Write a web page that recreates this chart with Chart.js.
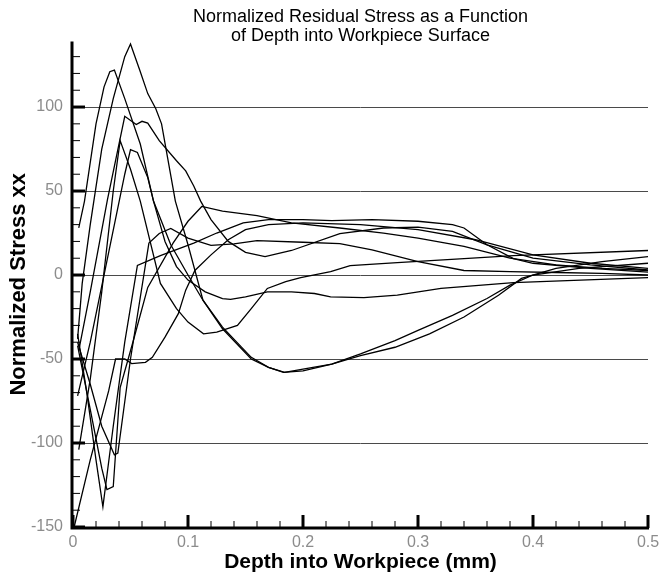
<!DOCTYPE html>
<html>
<head>
<meta charset="utf-8">
<script src="https://cdn.jsdelivr.net/npm/chart.js@4.4.1/dist/chart.umd.min.js"></script>
<style>
html,body{margin:0;padding:0;background:#fff;}
</style>
</head>
<body>
<canvas id="stressChart" width="660" height="578"></canvas>
<script>
// depth (mm) / normalized stress profiles, one pair of arrays per run
const depthA  = [0.004,0.008,0.015,0.025,0.035,0.045,0.05,0.058,0.065,0.072,0.077,0.089,0.1,0.113,0.13,0.155,0.17,0.184,0.2,0.225,0.25,0.28,0.3,0.33,0.36,0.38,0.4,0.44,0.5];
const stressA = [-38,-5,30,75,105,130,137.5,122,108,99,90,44,18,-15,-32,-50,-55,-58,-56,-53,-47,-39,-33,-24,-14,-6,0,4,7];

const depthB  = [0.005,0.01,0.02,0.027,0.032,0.036,0.045,0.0585,0.07,0.085,0.1,0.113,0.13,0.155,0.17,0.183,0.2,0.225,0.25,0.28,0.31,0.34,0.37,0.39,0.42,0.46,0.5];
const stressB = [28,44,90,112,121,122,105,78,44,18,0,-15,-31,-49,-55,-58,-57,-53,-48,-43,-35,-25,-12,-2,4,8,11];

const depthC  = [0.005,0.015,0.03,0.045,0.055,0.06,0.065,0.075,0.09,0.098,0.105,0.111,0.12,0.135,0.15,0.167,0.19,0.232,0.27,0.3,0.33,0.36,0.4,0.45,0.5];
const stressC = [-45,-10,45,94.5,89.6,91.5,90.4,80,68,62,53,44,33,20,13.5,11,14.6,24.7,28,28.5,26,18,10,6,3];

const depthD  = [0.005,0.015,0.025,0.035,0.041,0.05,0.0585,0.076,0.09,0.1,0.1135,0.125,0.143,0.155,0.169,0.185,0.198,0.224,0.241,0.282,0.34,0.383,0.5];
const stressD = [-104,-62,-10,50,80,63,44,-5,-20,-28,-35,-34,-30,-20,-8,-4,-1.5,2,5.6,7.4,9.8,11.6,14.6];

const depthE  = [0.004,0.015,0.03,0.045,0.05,0.056,0.065,0.07,0.08,0.09,0.1,0.115,0.13,0.137,0.15,0.169,0.19,0.21,0.224,0.253,0.282,0.32,0.383,0.5];
const stressE = [-72,-40,10,60,74.7,73,58,44,20,5,-3,-10,-14,-14.5,-13,-10,-10,-11,-13,-13.5,-12,-8,-4.5,-1.5];

const depthF  = [0.001,0.015,0.031,0.037,0.045,0.051,0.063,0.069,0.08,0.0916,0.098,0.106,0.12,0.135,0.15,0.17,0.2,0.25,0.3,0.35,0.4,0.45,0.5];
const stressF = [-150,-110,-69,-50,-50,-52.7,-52,-49,-37,-23,-9,2.7,12,21,27,30,31,30,27,21,12,7,4];

const depthG  = [0.004,0.012,0.02,0.026,0.035,0.045,0.056,0.076,0.105,0.125,0.148,0.17,0.2,0.225,0.26,0.3,0.33,0.34,0.36,0.383,0.4,0.45,0.5];
const stressG = [-35,-70,-110,-138,-90,-40,5.7,11.6,19,25,31,33,33,32.4,33,32,30,28,18,9.8,7,4,1.7];

const depthH  = [0.004,0.015,0.025,0.036,0.039,0.05,0.066,0.075,0.085,0.1,0.12,0.14,0.16,0.2,0.232,0.26,0.3,0.34,0.38,0.42,0.46,0.5];
const stressH = [-40,-65,-90,-107,-106,-50,19,24.7,27.7,22,17.6,18.5,20.5,19.5,18.7,15,8,2.7,2,1.5,1,0];

const depthI  = [0.004,0.015,0.025,0.0295,0.035,0.041,0.0525,0.065,0.087,0.1,0.112,0.13,0.16,0.19,0.232,0.27,0.3,0.34,0.38,0.42,0.46,0.5];
const stressI = [-42,-80,-115,-127.7,-126,-67,-39,-7.4,19,32,40.8,38,35.4,31,28,25,22,17,10,6,4,2.7];

const depthLabels  = ['0','0.1','0.2','0.3','0.4','0.5'];
const stressLabels = [-150,-100,-50,0,50,100];

const runs = [
  [depthA, stressA], [depthB, stressB], [depthC, stressC],
  [depthD, stressD], [depthE, stressE], [depthF, stressF],
  [depthG, stressG], [depthH, stressH], [depthI, stressI]
];

const datasets = runs.map(([d, s]) => ({
  data: d.map((x, i) => ({x: x, y: s[i]})),
  borderColor: '#000',
  borderWidth: 1.3,
  pointRadius: 0,
  tension: 0,
  fill: false
}));

// thick axis lines with ticks pointing into the plot
const axisFrame = {
  id: 'axisFrame',
  afterDraw(chart) {
    const {ctx, chartArea: area, scales} = chart;
    const xs = scales.x, ys = scales.y;
    const x0 = area.left - 1, y0 = area.bottom + 1;
    ctx.save();
    ctx.strokeStyle = '#000';
    for (let i = 0; i <= 25; i++) {
      const major = i % 5 === 0;
      const px = xs.getPixelForValue(i * 0.02);
      ctx.lineWidth = major ? 3 : 1;
      ctx.beginPath();
      ctx.moveTo(px, y0);
      ctx.lineTo(px, y0 - (major ? 13 : 7));
      ctx.stroke();
    }
    for (let v = -150; v <= 130; v += 10) {
      const major = v % 50 === 0;
      const py = ys.getPixelForValue(v);
      ctx.lineWidth = major ? 3 : 1;
      ctx.beginPath();
      ctx.moveTo(x0, py);
      ctx.lineTo(x0 + (major ? 13 : 8), py);
      ctx.stroke();
    }
    ctx.lineWidth = 3;
    ctx.beginPath();
    ctx.moveTo(x0, area.top);
    ctx.lineTo(x0, y0);
    ctx.lineTo(area.right + 1, y0);
    ctx.stroke();
    ctx.restore();
  }
};

new Chart(document.getElementById('stressChart'), {
  type: 'line',
  data: {datasets: datasets},
  plugins: [axisFrame],
  options: {
    responsive: false,
    animation: false,
    layout: {padding: {left: 0, right: 12, top: 0, bottom: 0}},
    plugins: {
      legend: {display: false},
      tooltip: {enabled: false},
      title: {
        display: true,
        fullSize: false,
        text: ['Normalized Residual Stress as a Function', 'of Depth into Workpiece Surface'],
        color: '#000',
        font: {family: 'Liberation Sans', size: 18, weight: 'normal', lineHeight: 1.07},
        padding: {top: 7, bottom: -4}
      }
    },
    scales: {
      x: {
        type: 'linear',
        min: 0,
        max: 0.5,
        afterFit: s => { s.height = 51; },
        grid: {display: false},
        border: {display: false},
        ticks: {
          stepSize: 0.1,
          padding: -2,
          color: '#8c8c8c',
          font: {family: 'Liberation Sans', size: 16},
          callback: (v) => depthLabels[Math.round(v * 10)] ?? ''
        },
        title: {
          display: true,
          text: 'Depth into Workpiece (mm)',
          color: '#000',
          font: {family: 'Liberation Sans', size: 21, weight: 'bold'},
          padding: {top: 0, bottom: 3}
        }
      },
      y: {
        type: 'linear',
        min: -150,
        max: 139,
        afterFit: s => { s.width = 73; },
        grid: {
          drawTicks: false,
          lineWidth: 1,
          color: c => (c.tick && stressLabels.includes(c.tick.value)) ? '#4a4a4a' : 'rgba(0,0,0,0)'
        },
        border: {display: false},
        ticks: {
          stepSize: 10,
          autoSkip: false,
          padding: 10,
          color: '#8c8c8c',
          font: {family: 'Liberation Sans', size: 16},
          callback: (v) => stressLabels.includes(v) ? String(v) : ''
        },
        title: {
          display: true,
          text: 'Normalized Stress xx',
          color: '#000',
          font: {family: 'Liberation Sans', size: 22, weight: 'bold'},
          padding: {top: 6, bottom: 0}
        }
      }
    }
  }
});
</script>
</body>
</html>
